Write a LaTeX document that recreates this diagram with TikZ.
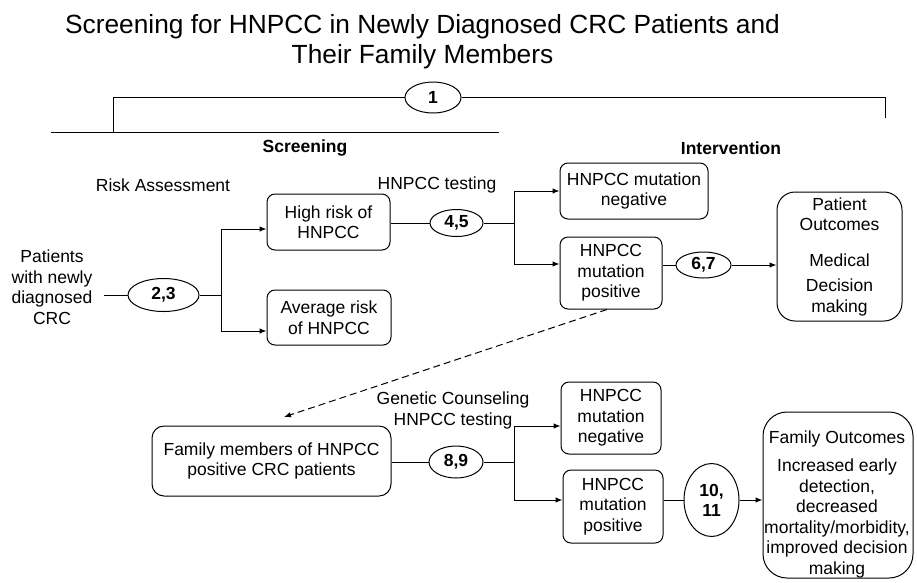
\documentclass[tikz,border=0pt]{standalone}
\usepackage{fontspec}
\setmainfont{Liberation Sans}
\usetikzlibrary{shapes.geometric,arrows.meta}
\begin{document}
\begin{tikzpicture}[x=1pt,y=-1pt,
  every node/.style={font=\fontsize{17.5}{20.5}\selectfont, inner sep=0pt},
  box/.style={draw, rounded corners=8pt, align=center, line width=1pt},
  bigbox/.style={draw, rounded corners=18pt, align=center, line width=1pt},
  oval/.style={draw, ellipse, line width=1pt, align=center, font=\fontsize{17.5}{20}\selectfont\bfseries},
  conn/.style={line width=1pt},
  arr/.style={line width=1pt, -{Latex[length=7pt,width=5.5pt]}},
  lbl/.style={align=center},
  head/.style={font=\fontsize{17.5}{20}\selectfont\bfseries}
]
\useasboundingbox (0,0) rectangle (917,582);

% title
\node[font=\fontsize{26.3}{30}\selectfont, align=center] (title) at (422.5,42) {Screening for HNPCC in Newly Diagnosed CRC Patients and\\Their Family Members};

% top bracket
\node[oval, minimum width=56, minimum height=31] (e1) at (433,97.5) {1};
\coordinate (bl) at (113,132);
\coordinate (br) at (885,118);
\coordinate (hl) at (51,132);
\coordinate (hr2) at (499,132);
\draw[conn] (bl) |- (e1.west);
\draw[conn] (e1.east) -| (br);
\draw[conn] (hl) -- (hr2);

\node[head] (scr) at (305,148) {Screening};
\node[head] (int) at (731,148) {Intervention};

\node (ra) at (163,185) {Risk Assessment};
\node (ht) at (437,185) {HNPCC testing};

% patients
\node[lbl] (pat) at (52,287) {Patients\\with newly\\diagnosed\\CRC};
\coordinate (pl) at (104,295);
\node[oval, minimum width=71, minimum height=33] (e23) at (163.5,295) {2,3};
\draw[conn] (pl) -- (e23.west);
\coordinate (j0) at (221,295);
\draw[conn] (e23.east) -- (j0);

\node[box, minimum width=123, minimum height=56] (hrk) at (328.5,222) {High risk of\\HNPCC};
\node[box, minimum width=124, minimum height=55] (avg) at (329,317.5) {Average risk\\of HNPCC};
\draw[arr] (j0) |- ([yshift=-7pt]hrk.west);
\draw[arr] (j0) |- ([yshift=-13.5pt]avg.west);

% HNPCC testing
\node[oval, minimum width=53, minimum height=27] (e45) at (456.5,223) {4,5};
\draw[conn] (hrk.east |- e45.west) -- (e45.west);
\coordinate (j1) at (514,223);
\draw[conn] (e45.east) -- (j1);

\node[box, minimum width=148, minimum height=56] (neg1) at (634,191) {HNPCC mutation\\negative};
\node[box, minimum width=102, minimum height=72] (pos1) at (611,273) {HNPCC\\mutation\\positive};
\draw[arr] (j1) |- (neg1.west);
\draw[arr] (j1) |- ([yshift=9pt]pos1.west);

\node[oval, minimum width=55, minimum height=26] (e67) at (703.5,265) {6,7};
\draw[conn] (pos1.east |- e67.west) -- (e67.west);

\node[bigbox, minimum width=125, minimum height=129] (po) at (839.5,256.5) {Patient\\Outcomes\\[15pt]Medical\\[5pt]Decision\\making};
\draw[arr] (e67.east) -- (po.west |- e67.east);

% dashed
\draw[line width=1pt, dashed, dash pattern=on 7pt off 4pt, -{Latex[length=7pt,width=5.5pt]}] ([xshift=-4pt]pos1.south) -- (284,417) coordinate (dtip);

% family
\node[box, minimum width=239, minimum height=70, rounded corners=12pt] (fam) at (271.5,461) {Family members of HNPCC\\positive CRC patients};
\node[lbl] (gc) at (453,410.5) {Genetic Counseling\\HNPCC testing};
\node[oval, minimum width=54, minimum height=32] (e89) at (456,462) {8,9};
\draw[conn] (fam.east |- e89.west) -- (e89.west);
\coordinate (j2) at (514,462);
\draw[conn] (e89.east) -- (j2);

\node[box, minimum width=100, minimum height=72] (neg2) at (611,418) {HNPCC\\mutation\\negative};
\node[box, minimum width=100, minimum height=73] (pos2) at (613,506.5) {HNPCC\\mutation\\positive};
\draw[arr] (j2) |- ([yshift=-8pt]neg2.west);
\draw[arr] (j2) |- ([yshift=6.5pt]pos2.west);

\node[oval, minimum width=55, minimum height=73] (e1011) at (711.5,500) {10,\\11};
\draw[conn] (pos2.east |- e1011.west) -- (e1011.west);

\node[bigbox, minimum width=150, minimum height=166, rounded corners=24pt] (fo) at (838,495) {};
\node[lbl] (fot) at (837,504) {Family Outcomes\\[8pt]Increased early\\detection,\\decreased\\mortality/morbidity,\\improved decision\\making};
\draw[arr] (e1011.east) -- (fo.west |- e1011.east);
\end{tikzpicture}
\end{document}
